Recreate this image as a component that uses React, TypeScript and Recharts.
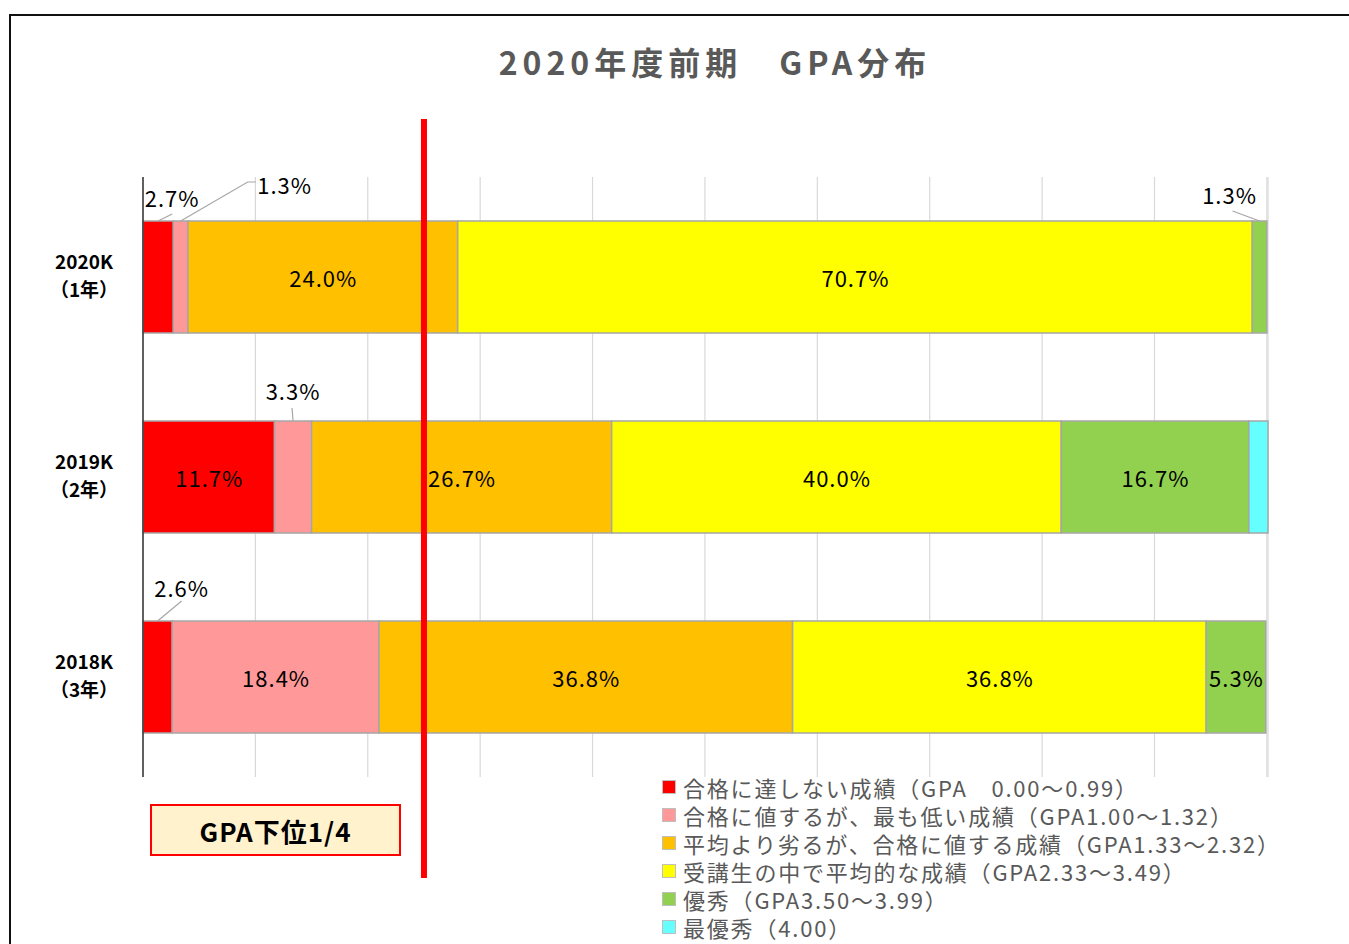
import React from 'react';
import {
  BarChart, Bar, XAxis, YAxis, CartesianGrid, LabelList, ReferenceLine,
} from 'recharts';

const FONT = '"Noto Sans CJK JP", "Noto Sans", sans-serif';

// ── Data ──────────────────────────────────────────────────────────────────────

const categories = ['2020K', '2019K', '2018K'];
const gradeLabels = ['（1年）', '（2年）', '（3年）'];

const failing = [2.7, 11.7, 2.6];
const lowest = [1.3, 3.3, 18.4];
const belowAverage = [24.0, 26.7, 36.8];
const average = [70.7, 40.0, 36.8];
const excellent = [1.3, 16.7, 5.3];
const topGrade = [0, 1.7, 0];

const seriesNames = [
  '合格に達しない成績（GPA　0.00～0.99）',
  '合格に値するが、最も低い成績（GPA1.00～1.32）',
  '平均より劣るが、合格に値する成績（GPA1.33～2.32）',
  '受講生の中で平均的な成績（GPA2.33～3.49）',
  '優秀（GPA3.50～3.99）',
  '最優秀（4.00）',
];
const seriesValues = [failing, lowest, belowAverage, average, excellent, topGrade];
const seriesColors = ['#FF0000', '#FF9999', '#FFC000', '#FFFF00', '#92D050', '#66FFFF'];

const LOWER_QUARTER = 25;

const chartData = categories.map((c, i) => {
  const row: Record<string, any> = { name: c, grade: gradeLabels[i] };
  seriesValues.forEach((vals, s) => { row[`s${s}`] = vals[i]; });
  return row;
});

// callout placement for small segments: text offset + leader points, relative to segment top-center
const CALLOUTS: Record<string, { tx: number; ty: number; pts: [number, number][] }> = {
  '0-0': { tx: 14, ty: -24, pts: [[14, -7]] },
  '1-0': { tx: 104, ty: -37, pts: [[67, -39], [75, -39]] },
  '4-0': { tx: -30, ty: -27, pts: [[-27, -10]] },
  '1-1': { tx: 0, ty: -31, pts: [[-1, -13]] },
  '5-1': { tx: -34, ty: -40, pts: [[-34, -23]] },
  '0-2': { tx: 24, ty: -34, pts: [[24, -20]] },
};

function makeLabel(s: number) {
  return (props: any) => {
    const vb = props.viewBox && props.viewBox.width != null ? props.viewBox : props;
    const { x, y, width, height } = vb;
    const idx = props.index;
    const value = seriesValues[s][idx];
    if (!value) return null;
    const text = `${value.toFixed(1)}%`;
    const c = CALLOUTS[`${s}-${idx}`];
    const style = { letterSpacing: 1 };
    if (!c) {
      return (
        <text x={x + width / 2 + 0.5} y={y + height / 2} textAnchor="middle" dominantBaseline="central"
          fontFamily={FONT} fontSize={22} fill="#000" style={style}>{text}</text>
      );
    }
    const cx = x + width / 2;
    const pts = [[cx, y], ...c.pts.map(([dx, dy]) => [cx + dx, y + dy])];
    return (
      <g>
        <polyline points={pts.map(p => p.join(',')).join(' ')} fill="none" stroke="#A6A6A6" strokeWidth={1.2} />
        <text x={cx + c.tx} y={y + c.ty} textAnchor="middle" dominantBaseline="central"
          fontFamily={FONT} fontSize={22} fill="#000" style={style}>{text}</text>
      </g>
    );
  };
}

function CategoryTick(props: any) {
  const { x, y, payload } = props;
  const grade = gradeLabels[categories.indexOf(payload.value)];
  return (
    <g>
      <text x={x - 51} y={y - 17} textAnchor="middle" dominantBaseline="central"
        fontFamily={FONT} fontSize={19} fontWeight={700} fill="#000">{payload.value}</text>
      <text x={x - 51} y={y + 11} textAnchor="middle" dominantBaseline="central"
        fontFamily={FONT} fontSize={19} fontWeight={700} fill="#000">{grade}</text>
    </g>
  );
}

export default function App() {
  return (
    <div style={{
      position: 'absolute', left: 0, top: 0, width: 1349, height: 944,
      overflow: 'hidden', background: '#fff', fontFamily: FONT,
    }}>
      {/* frame */}
      <div style={{
        position: 'absolute', left: 9, top: 14, width: 1360, height: 960,
        borderTop: '2px solid #111', borderLeft: '2px solid #111',
      }} />

      <div style={{
        position: 'absolute', left: 0, width: 1430, top: 38, textAlign: 'center',
        fontSize: 32, fontWeight: 700, color: '#595959', letterSpacing: 5,
      }}>
        2020年度前期　GPA分布
      </div>

      <div style={{ position: 'absolute', left: 0, top: 0 }}>
        <BarChart
          width={1349}
          height={944}
          data={chartData}
          layout="vertical"
          margin={{ top: 177, right: 81, bottom: 167, left: 0 }}
          barCategoryGap="22%"
        >
          <CartesianGrid horizontal={false} stroke="#D9D9D9" strokeWidth={1.2} />
          <XAxis type="number" domain={[0, 100]} ticks={[0, 10, 20, 30, 40, 50, 60, 70, 80, 90, 100]} hide />
          <YAxis
            type="category"
            dataKey="name"
            width={143}
            axisLine={{ stroke: '#333', strokeWidth: 1.5 }}
            tickLine={false}
            tick={<CategoryTick />}
          />
          {seriesValues.map((_, s) => (
            <Bar key={s} dataKey={`s${s}`} stackId="a" fill={seriesColors[s]}
              stroke="#A6A6A6" strokeWidth={1.5} isAnimationActive={false}>
              <LabelList dataKey={`s${s}`} content={makeLabel(s)} />
            </Bar>
          ))}
          <ReferenceLine
            x={LOWER_QUARTER}
            ifOverflow="visible"
            shape={(p: any) => {
              const top = Math.min(p.y1, p.y2);
              const bottom = Math.max(p.y1, p.y2);
              return <rect x={p.x1 - 3} y={top - 58} width={6} height={bottom - top + 159} fill="#FF0000" />;
            }}
          />
        </BarChart>
      </div>

      {/* annotation box */}
      <div style={{
        position: 'absolute', left: 150, top: 804, width: 247, height: 48,
        border: '2px solid #FF0000', background: '#FFF2CC',
        display: 'flex', alignItems: 'center', justifyContent: 'center',
        fontSize: 26, fontWeight: 700, color: '#000', letterSpacing: 1,
      }}>
        GPA下位1/4
      </div>

      {/* legend */}
      <div style={{ position: 'absolute', left: 662, top: 773 }}>
        {seriesNames.map((n, i) => (
          <div key={n} style={{ display: 'flex', alignItems: 'center', height: 28 }}>
            <span style={{
              width: 12, height: 12, background: seriesColors[i],
              border: '1px solid #BFBFBF', marginRight: 7, flexShrink: 0,
            }} />
            <span style={{
              fontSize: 22, lineHeight: '26px', color: '#595959',
              whiteSpace: 'nowrap', letterSpacing: 1.8,
            }}>{n}</span>
          </div>
        ))}
      </div>
    </div>
  );
}
